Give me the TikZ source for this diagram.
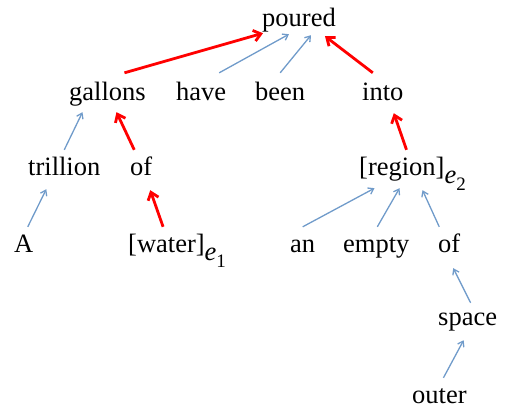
\documentclass[tikz,border=0pt]{standalone}
\usepackage{fontspec}
\setmainfont{Liberation Serif}
\usetikzlibrary{arrows.meta}
\definecolor{depblue}{RGB}{112,155,202}
\definecolor{pathred}{RGB}{255,0,0}
\newcommand\entsub[1]{\raisebox{-8pt}{\textit{e}}\raisebox{-15pt}{\fontsize{19}{19}\selectfont #1}}

\begin{document}
\begin{tikzpicture}[x=1pt,y=-1pt,
    word/.style={anchor=base west,inner sep=0pt,text height=18pt,text depth=6pt,font=\fontsize{26.5}{30}\selectfont},
    dep/.style={-{Straight Barb[length=5pt,width=7pt]},draw=depblue,line width=1.3pt},
    sdp/.style={-{Straight Barb[length=7pt,width=11pt]},draw=pathred,line width=2.8pt}]

    \useasboundingbox (0,0) rectangle (505,410);

    % words, placed at (left, baseline)
    \node[word] (poured)   at (262,26)  {poured};
    \node[word] (gallons)  at (69,100)  {gallons};
    \node[word] (have)     at (176,100) {have};
    \node[word] (been)     at (255,100) {been};
    \node[word] (into)     at (362,100) {into};
    \node[word] (trillion) at (28,175)  {trillion};
    \node[word] (ofA)      at (130,175) {of};
    \node[word] (region)   at (359,175) {[region]\entsub{2}};
    \node[word] (A)        at (14,252)  {A};
    \node[word] (water)    at (128,252) {[water]\entsub{1}};
    \node[word] (an)       at (290,252) {an};
    \node[word] (empty)    at (343,252) {empty};
    \node[word] (ofB)      at (438,252) {of};
    \node[word] (space)    at (438,325) {space};
    \node[word] (outer)    at (412,403) {outer};

    % shortest dependency path
    \draw[sdp] ([shift={(17,-9)}]gallons.north) -- ([shift={(-36,1)}]poured.south);
    \draw[sdp] ([shift={(-10,-9)}]into.north) -- ([shift={(26,4)}]poured.south);
    \draw[sdp] ([shift={(-7,-7)}]ofA.north) -- ([shift={(9,6)}]gallons.south);
    \draw[sdp] ([shift={(-14,-7)}]water.north) -- ([shift={(9,9)}]ofA.south);
    \draw[sdp] ([shift={(-6,-7)}]region.north) -- ([shift={(11,7)}]into.south);

    % other dependencies
    \draw[dep] ([shift={(18,-9)}]have.north) -- ([shift={(-10,2)}]poured.south);
    \draw[dep] ([shift={(0,-9)}]been.north) -- ([shift={(12,3)}]poured.south);
    \draw[dep] ([shift={(0,-7)}]trillion.north) -- ([shift={(-25,6)}]gallons.south);
    \draw[dep] ([shift={(4,-7)}]A.north) -- ([shift={(-18,8)}]trillion.south);
    \draw[dep] ([shift={(0,-7)}]an.north) -- ([shift={(-38,7)}]region.south);
    \draw[dep] ([shift={(1,-7)}]empty.north) -- ([shift={(-13,7)}]region.south);
    \draw[dep] ([shift={(-10,-7)}]ofB.north) -- ([shift={(10,9)}]region.south);
    \draw[dep] ([shift={(3,-4)}]space.north) -- ([shift={(4,10)}]ofB.south);
    \draw[dep] ([shift={(4,-7)}]outer.north) -- ([shift={(-4,9)}]space.south);
\end{tikzpicture}
\end{document}
